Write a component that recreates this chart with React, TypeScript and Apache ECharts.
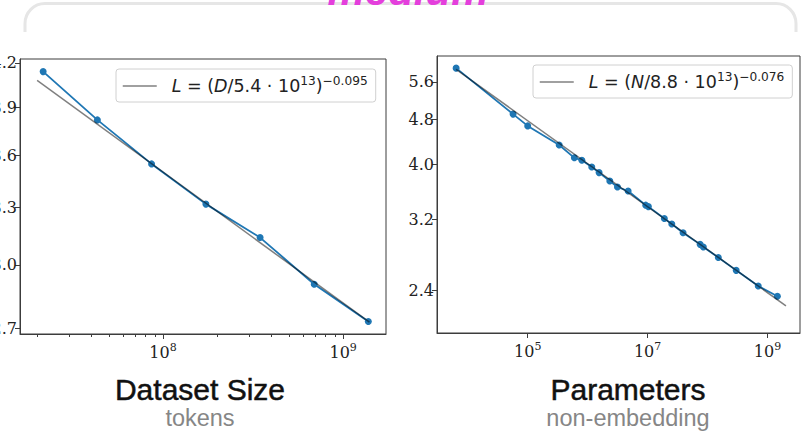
import React, { useEffect, useRef } from "react";
import * as echarts from "echarts";

// ---------- data ----------
const DATASET_TOKENS = [2.16e7, 4.32e7, 8.64e7, 1.73e8, 3.46e8, 6.91e8, 1.38e9];
const DATASET_LOSS = [4.14, 3.82, 3.55, 3.32, 3.14, 2.905, 2.73];
const DATASET_FIT_TOKENS = [2.0e7, 1.4e9];
const DATASET_FIT_LOSS = [4.08, 2.727];

const PARAMS_COUNT = [
  6.4e3, 5.7e4, 1.0e5, 3.35e5, 6.0e5, 8.0e5, 1.17e6, 1.55e6, 2.34e6, 3.14e6, 4.73e6,
  9.3e6, 1.03e7, 1.9e7, 2.53e7, 3.9e7, 7.5e7, 8.5e7, 1.51e8, 3.0e8, 7.0e8, 1.46e9,
];
const PARAMS_LOSS = [
  5.92, 4.91, 4.68, 4.33, 4.11, 4.07, 3.96, 3.87, 3.74, 3.65, 3.59,
  3.39, 3.37, 3.21, 3.14, 3.03, 2.89, 2.86, 2.74, 2.6, 2.44, 2.34,
];
const PARAMS_FIT_COUNT = [6.4e3, 2.03e9];
const PARAMS_FIT_LOSS = [5.89, 2.25];

// ---------- ticks ----------
const DATASET_X_MAJOR = [1e8, 1e9];
const DATASET_X_MINOR = [2e7, 3e7, 4e7, 5e7, 6e7, 7e7, 8e7, 9e7, 2e8, 3e8, 4e8, 5e8, 6e8, 7e8, 8e8, 9e8];
const DATASET_Y_TICKS = [2.7, 3.0, 3.3, 3.6, 3.9, 4.2];
const PARAMS_X_TICKS = [1e5, 1e7, 1e9];
const PARAMS_Y_TICKS = [2.4, 3.2, 4.0, 4.8, 5.6];

// ---------- labels ----------
const DATASET_FIT_NAME = "L = (D/5.4·10^13)^−0.095";
const PARAMS_FIT_NAME = "L = (N/8.8·10^13)^−0.076";
const DATASET_FIT_RICH = "{itp|L} = ({it|D}/5.4 · 10{sup|13}){sup|−0.095}";
const PARAMS_FIT_RICH = "{itp|L} = ({it|N}/8.8 · 10{sup|13}){sup|−0.076}";
const TITLES = ["Dataset Size", "Parameters"];
const SUBTITLES = ["tokens", "non-embedding"];
const BANNER = "medium";

const BLUE = "#1f77b4";
const FIT = "rgba(0,0,0,0.5)";
const FRAME = "#3c3c3c";
const TICK_FONT = "DejaVu Serif";

const BRACKET_D = "M25 32 L25 23.5 A20 20 0 0 1 45 3.5 L776 3.5 A20 20 0 0 1 796 23.5 L796 32";
let registered = false;
function ensureShape() {
  if (!registered) {
    echarts.graphic.registerShape("bracket", echarts.graphic.extendPath(BRACKET_D, {}) as any);
    registered = true;
  }
}

const pow10Label = (v: number) => `{b|10}{s|${Math.round(Math.log10(v))}}`;
const powRich = {
  b: { fontFamily: TICK_FONT, fontSize: 16, color: "#222", lineHeight: 20 },
  s: { fontFamily: TICK_FONT, fontSize: 11, color: "#222", verticalAlign: "top", lineHeight: 12 },
};

const legendRich = {
  itp: { fontStyle: "italic", padding: [0, 0, 0, 10] },
  it: { fontStyle: "italic" },
  sup: { fontSize: 12.2, verticalAlign: "top", lineHeight: 13 },
};

function makeLegend(name: string, rich: string, left: number, top: number) {
  return {
    data: [name],
    left,
    top,
    orient: "horizontal",
    padding: [6, 8, 5, 6],
    itemWidth: 34,
    itemHeight: 14,
    backgroundColor: "#fff",
    borderColor: "#d0d0d0",
    borderWidth: 1,
    borderRadius: 3,
    selectedMode: false,
    itemStyle: { opacity: 0 },
    lineStyle: { color: "#808080", width: 1.5 },
    formatter: () => rich,
    textStyle: {
      fontFamily: "DejaVu Sans",
      fontSize: 17.5,
      color: "#222",
      lineHeight: 22,
      rich: legendRich,
    },
  };
}

const titleStyle = {
  fontFamily: "Liberation Sans",
  fontSize: 30,
  fill: "#111",
  stroke: "#111",
  lineWidth: 0.5,
  align: "center",
  verticalAlign: "middle",
};
const subStyle = {
  fontFamily: "Liberation Sans",
  fontSize: 23.5,
  fill: "#868686",
  align: "center",
  verticalAlign: "middle",
};

export default function App() {
  const ref = useRef<HTMLDivElement>(null);
  useEffect(() => {
    if (!ref.current) return;
    ensureShape();
    const chart = echarts.init(ref.current, null, { renderer: "svg" });

    const yLabel = {
      fontFamily: TICK_FONT,
      fontSize: 16,
      color: "#222",
      margin: 3,
      formatter: (v: number) => v.toFixed(1),
    };

    const option: any = {
      animation: false,
      backgroundColor: "#fff",
      grid: [
        { left: 20, top: 59, width: 366, height: 275, show: true, borderColor: FRAME, borderWidth: 1, backgroundColor: "transparent", outerBoundsMode: "none", containLabel: false },
        { left: 437, top: 56, width: 363, height: 277, show: true, borderColor: FRAME, borderWidth: 1, backgroundColor: "transparent", outerBoundsMode: "none", containLabel: false },
      ],
      xAxis: [
        {
          type: "log",
          gridIndex: 0,
          position: "bottom",
          min: 1.607e7,
          max: 1.73e9,
          axisLine: { show: true, lineStyle: { color: FRAME, width: 1 } },
          axisTick: { show: true, length: 5, customValues: DATASET_X_MAJOR, lineStyle: { color: FRAME } },
          axisLabel: { customValues: DATASET_X_MAJOR, formatter: pow10Label, rich: powRich, margin: 8 },
          splitLine: { show: false },
          minorTick: { show: false },
        },
        {
          type: "log",
          gridIndex: 0,
          position: "bottom",
          offset: 0,
          min: 1.607e7,
          max: 1.73e9,
          axisLine: { show: false },
          axisTick: { show: true, length: 3, customValues: DATASET_X_MINOR, lineStyle: { color: FRAME } },
          axisLabel: { show: false },
          splitLine: { show: false },
        },
        {
          type: "log",
          gridIndex: 1,
          position: "bottom",
          min: 3.07e3,
          max: 3.48e9,
          axisLine: { show: true, lineStyle: { color: FRAME, width: 1 } },
          axisTick: { show: true, length: 5, customValues: PARAMS_X_TICKS, lineStyle: { color: FRAME } },
          axisLabel: { customValues: PARAMS_X_TICKS, formatter: pow10Label, rich: powRich, margin: 8 },
          splitLine: { show: false },
        },
      ],
      yAxis: [
        {
          type: "log",
          gridIndex: 0,
          min: 2.674,
          max: 4.228,
          axisLine: { show: true, lineStyle: { color: FRAME, width: 1 } },
          axisTick: { show: true, length: 5, customValues: DATASET_Y_TICKS, lineStyle: { color: FRAME } },
          axisLabel: { ...yLabel, customValues: DATASET_Y_TICKS },
          splitLine: { show: false },
        },
        {
          type: "log",
          gridIndex: 1,
          min: 2.015,
          max: 6.22,
          axisLine: { show: true, lineStyle: { color: FRAME, width: 1 } },
          axisTick: { show: true, length: 5, customValues: PARAMS_Y_TICKS, lineStyle: { color: FRAME } },
          axisLabel: { ...yLabel, customValues: PARAMS_Y_TICKS },
          splitLine: { show: false },
        },
      ],
      legend: [
        makeLegend(DATASET_FIT_NAME, DATASET_FIT_RICH, 116, 69),
        makeLegend(PARAMS_FIT_NAME, PARAMS_FIT_RICH, 533, 65),
      ],
      series: [
        {
          name: "Dataset Size",
          type: "line",
          xAxisIndex: 0,
          yAxisIndex: 0,
          data: DATASET_TOKENS.map((x, i) => [x, DATASET_LOSS[i]]),
          symbol: "circle",
          symbolSize: 7,
          itemStyle: { color: BLUE },
          lineStyle: { color: BLUE, width: 1.8 },
          z: 2,
        },
        {
          name: DATASET_FIT_NAME,
          type: "line",
          xAxisIndex: 0,
          yAxisIndex: 0,
          data: DATASET_FIT_TOKENS.map((x, i) => [x, DATASET_FIT_LOSS[i]]),
          symbol: "none",
          itemStyle: { color: FIT },
          lineStyle: { color: FIT, width: 1.5 },
          z: 3,
        },
        {
          name: "Parameters",
          type: "line",
          xAxisIndex: 2,
          yAxisIndex: 1,
          data: PARAMS_COUNT.map((x, i) => [x, PARAMS_LOSS[i]]),
          symbol: "circle",
          symbolSize: 7,
          itemStyle: { color: BLUE },
          lineStyle: { color: BLUE, width: 1.8 },
          z: 2,
        },
        {
          name: PARAMS_FIT_NAME,
          type: "line",
          xAxisIndex: 2,
          yAxisIndex: 1,
          data: PARAMS_FIT_COUNT.map((x, i) => [x, PARAMS_FIT_LOSS[i]]),
          symbol: "none",
          itemStyle: { color: FIT },
          lineStyle: { color: FIT, width: 1.5 },
          z: 3,
        },
      ],
      graphic: [
        {
          type: "bracket",
          x: 0,
          y: 0,
          scaleX: 1,
          scaleY: 1,
          silent: true,
          style: { fill: "none", stroke: "#e6e6e6", lineWidth: 3 },
          z: 1,
        },
        {
          type: "text",
          x: 408,
          y: 11,
          silent: true,
          style: {
            text: BANNER,
            fontFamily: "Liberation Sans",
            fontSize: 42,
            fontWeight: "bold",
            fontStyle: "italic",
            fill: "#e43fdc",
            align: "center",
            verticalAlign: "bottom",
          },
          z: 2,
        },
        { type: "text", x: 200, y: 389, style: { text: TITLES[0], ...titleStyle } },
        { type: "text", x: 200, y: 418, style: { text: SUBTITLES[0], ...subStyle } },
        { type: "text", x: 628, y: 389, style: { text: TITLES[1], ...titleStyle } },
        { type: "text", x: 628, y: 418, style: { text: SUBTITLES[1], ...subStyle } },
      ],
    };

    chart.setOption(option);
    return () => chart.dispose();
  }, []);

  return (
    <div
      ref={ref}
      style={{ position: "absolute", left: 0, top: 0, width: 808, height: 432, background: "#fff" }}
    />
  );
}
